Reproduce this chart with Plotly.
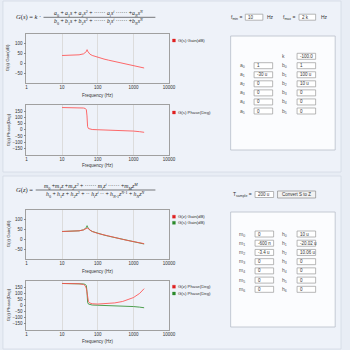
import plotly.graph_objects as go

# ---------------- data ----------------
freq = [10, 20, 30, 40, 45, 48, 50, 50.33, 51, 52, 55, 60, 70, 100, 150, 200, 300, 500, 700, 1000, 1500, 2000]
gs_gain = [40.35, 41.5, 43.8, 48.7, 53.9, 60.4, 69.4, 70.0, 67.6, 62.5, 54.1, 47.5, 40.6, 30.6, 22.07, 16.6, 9.25, 0.24, -5.61, -11.75, -18.63, -23.4]
gs_phase = [179.5, 178.9, 178.0, 175.7, 171.5, 161.0, 112.0, 89.5, 50.0, 25.5, 9.7, 4.5, 1.9, 0.1, -0.9, -1.7, -2.9, -5.2, -7.4, -10.7, -15.7, -20.6]
gz_gain = [40.3, 41.5, 43.8, 48.5, 53.3, 58.0, 60.4, 60.5, 59.9, 58.4, 53.0, 47.1, 40.4, 30.6, 22.05, 16.6, 9.24, 0.25, -5.57, -11.6, -18.1, -21.8]
gz_phase = [179.7, 179.0, 177.4, 171.0, 159.5, 137.0, 99.0, 91.6, 75.7, 57.7, 31.0, 18.6, 12.3, 9.8, 11.2, 13.7, 19.3, 31.3, 43.8, 63.2, 98.0, 137.0]

x_tickvals = [1, 10, 100, 1000, 10000]
x_ticktext = ["1", "10", "100", "1000", "10000"]
gain_ticks = [-50, 0, 50, 100]
phase_ticks = [-150, -100, -50, 0, 50, 100, 150]

a_labels = ["a<sub>%d</sub>" % i for i in range(6)]
a_values = ["1", "-30 u", "0", "0", "0", "0"]
b_labels = ["b<sub>%d</sub>" % i for i in range(6)]
b_values = ["1", "100 u", "10 u", "0", "0", "0"]
k_value = "-100.0"
m_labels = ["m<sub>%d</sub>" % i for i in range(7)]
m_values = ["0", "-600 n", "-3.4 u", "0", "0", "0", "0"]
h_labels = ["h<sub>%d</sub>" % i for i in range(7)]
h_values = ["10 u", "-20.02 u", "10.06 u", "0", "0", "0", "0"]
fmin_value = "10"
fmax_value = "2 k"
tsample_value = "200 u"

# ---------------- helpers ----------------
W = H = 350
def X(p): return p / W
def Y(p): return 1 - p / H

RED = "rgba(255,80,80,0.85)"
GREEN = "rgba(60,150,60,0.9)"
SANS = "Liberation Sans"
SERIF = "Liberation Serif"
TXT = "#333"

fig = go.Figure()
fig.add_trace(go.Scatter(x=freq, y=gs_gain, mode="lines", line=dict(color=RED, width=1), xaxis="x", yaxis="y"))
fig.add_trace(go.Scatter(x=freq, y=gs_phase, mode="lines", line=dict(color=RED, width=1), xaxis="x2", yaxis="y2"))
fig.add_trace(go.Scatter(x=freq, y=gs_gain, mode="lines", line=dict(color=GREEN, width=1), xaxis="x3", yaxis="y3"))
fig.add_trace(go.Scatter(x=freq, y=gz_gain, mode="lines", line=dict(color=RED, width=1), xaxis="x3", yaxis="y3"))
fig.add_trace(go.Scatter(x=freq, y=gs_phase, mode="lines", line=dict(color=GREEN, width=1), xaxis="x4", yaxis="y4"))
fig.add_trace(go.Scatter(x=freq, y=gz_phase, mode="lines", line=dict(color=RED, width=1), xaxis="x4", yaxis="y4"))

tickfont = dict(family=SANS, size=4.5, color=TXT)
def xax(anchor):
    return dict(domain=[X(26), X(172)], anchor=anchor, type="log", range=[0, 4],
                tickvals=x_tickvals, ticktext=x_ticktext, showgrid=True, gridcolor="#dcdcdc",
                gridwidth=0.8, showline=True, mirror=True, linecolor="#a0a0a0", linewidth=0.8,
                tickfont=tickfont, ticks="", zeroline=False, fixedrange=True)
def yax(anchor, top, bot, rng, tv):
    return dict(domain=[Y(bot), Y(top)], anchor=anchor, range=rng, tickvals=tv,
                showgrid=False, showline=True, mirror=True, linecolor="#a0a0a0", linewidth=0.8,
                ticks="outside", ticklen=2, tickcolor="#888", tickwidth=0.6,
                tickfont=tickfont, zeroline=False, fixedrange=True)

layout = dict(
    width=W, height=H, margin=dict(l=0, r=0, t=0, b=0),
    paper_bgcolor="#e8edf5", plot_bgcolor="white", showlegend=False,
    xaxis=xax("y"), yaxis=yax("x", 34, 83, [-100, 150], gain_ticks),
    xaxis2=xax("y2"), yaxis2=yax("x2", 105, 154.5, [-200, 200], phase_ticks),
    xaxis3=xax("y3"), yaxis3=yax("x3", 210, 259, [-100, 150], gain_ticks),
    xaxis4=xax("y4"), yaxis4=yax("x4", 281, 329.5, [-200, 200], phase_ticks),
)
fig.update_layout(**layout)

shapes = []
ann = []

def rect(x0, y0, x1, y1, fill, line, lw=0.8, layer="below"):
    shapes.append(dict(type="rect", xref="paper", yref="paper", x0=X(x0), x1=X(x1), y0=Y(y1), y1=Y(y0),
                       fillcolor=fill, line=dict(color=line, width=lw), layer=layer))

def text(x, y, s, size=5, anchor="left", color=TXT, family=SANS, angle=0):
    ann.append(dict(xref="paper", yref="paper", x=X(x), y=Y(y), text=s, showarrow=False,
                    xanchor=anchor, yanchor="middle", textangle=angle,
                    font=dict(family=family, size=size, color=color)))

def inputbox(x0, x1, yc, val, h=6):
    rect(x0, yc - h / 2, x1, yc + h / 2, "white", "#9a9a9a", 0.7, "above")
    text(x0 + 1.2, yc, val, size=4.5)

# panels
rect(2, 1, 348, 172, "#eef2f9", "#d3d9e4")
rect(2, 176, 348, 349, "#eef2f9", "#d3d9e4")

# ---- top formula
text(43, 17, "<i>G</i>(<i>s</i>) = <i>k</i> ·", size=6.5, anchor="right", family=SERIF, color="#222")
text(100, 13.6, "<i>a</i><sub>0</sub> + <i>a</i><sub>1</sub><i>s</i> + <i>a</i><sub>2</sub><i>s</i><sup>2</sup> + ······ <i>a</i><sub><i>i</i></sub><i>s</i><sup><i>i</i></sup> ······ +<i>a</i><sub><i>N</i></sub><i>s</i><sup><i>N</i></sup>",
     size=5.8, anchor="center", family=SERIF, color="#222")
text(100, 21.2, "<i>b</i><sub>0</sub> + <i>b</i><sub>1</sub><i>s</i> + <i>b</i><sub>2</sub><i>s</i><sup>2</sup> + ······ <i>b</i><sub><i>i</i></sub><i>s</i><sup><i>i</i></sup> ······ +<i>b</i><sub><i>N</i></sub><i>s</i><sup><i>N</i></sup>",
     size=5.8, anchor="center", family=SERIF, color="#222")
shapes.append(dict(type="line", xref="paper", yref="paper", x0=X(43.5), x1=X(158), y0=Y(17.3), y1=Y(17.3), line=dict(color="#222", width=0.6)))

# ---- bottom formula
text(35, 190, "<i>G</i>(<i>z</i>) =", size=6.5, anchor="right", family=SERIF, color="#222")
text(92, 186, "<i>m</i><sub>0</sub> +<i>m</i><sub>1</sub><i>z</i> +<i>m</i><sub>2</sub><i>z</i><sup>2</sup> + ······ <i>m</i><sub><i>i</i></sub><i>z</i><sup><i>i</i></sup> ······ +<i>m</i><sub><i>M</i></sub><i>z</i><sup><i>M</i></sup>",
     size=5.8, anchor="center", family=SERIF, color="#222")
text(96.5, 194, "<i>h</i><sub>0</sub> + <i>h</i><sub>1</sub><i>z</i> + <i>h</i><sub>2</sub><i>z</i><sup>2</sup> + ·· <i>h</i><sub><i>i</i></sub><i>z</i><sup><i>i</i></sup> ·· + <i>h</i><sub><i>N</i>-1</sub><i>z</i><sup><i>N</i>-1</sup> + <i>h</i><sub><i>N</i></sub><i>z</i><sup><i>N</i></sup>",
     size=5.8, anchor="center", family=SERIF, color="#222")
shapes.append(dict(type="line", xref="paper", yref="paper", x0=X(35.5), x1=X(158), y0=Y(190), y1=Y(190), line=dict(color="#222", width=0.6)))

# ---- fmin / fmax
text(248.5, 17, "f<sub>min</sub> =", size=5, anchor="right")
inputbox(250, 268, 17.2, fmin_value)
text(270, 17, "Hz", size=5)
text(303, 17, "f<sub>max</sub> =", size=5, anchor="right")
inputbox(305, 322, 17.2, fmax_value)
text(325.5, 17, "Hz", size=5)

# ---- Tsample / button
text(258.5, 194.3, "T<sub>sample</sub> =", size=5, anchor="right")
inputbox(260, 279, 194.5, tsample_value)
rect(283, 191, 322, 198, "#f2f2f2", "#8a8a8a", 0.7, "above")
text(302.5, 194.5, "Convert S to Z", size=4.5, anchor="center")

# ---- coefficient boxes
rect(235, 36, 342, 150, "#fbfcfe", "#b8bec9")
text(289, 56.3, "k", size=5, anchor="center", color="#555")
inputbox(303, 322, 56.3, k_value)
for i in range(6):
    yc = 65.7 + i * 9.06
    text(242.5, yc, a_labels[i], size=5, color="#555")
    inputbox(259, 278, yc, a_values[i])
    text(286, yc, b_labels[i], size=5, color="#555")
    inputbox(303, 322, yc, b_values[i])

rect(235, 212, 342, 327, "#fbfcfe", "#b8bec9")
for i in range(7):
    yc = 234 + i * 9.22
    text(242, yc, m_labels[i], size=5, color="#555")
    inputbox(260, 279, yc, m_values[i])
    text(286, yc, h_labels[i], size=5, color="#555")
    inputbox(303, 322, yc, h_values[i])

# ---- legends
def legend(y, col, s):
    rect(175.5, y - 1.5, 178.5, y + 1.5, col, col, 0.3, "above")
    text(179.5, y, s, size=4.3)
legend(40.5, "#e02020", "G(s) Gain(dB)")
legend(112.5, "#e02020", "G(s) Phase(Deg)")
legend(216.7, "#e02020", "G(z) Gain(dB)")
legend(222.8, "#2a8a2a", "G(s) Gain(dB)")
legend(286.7, "#e02020", "G(z) Phase(Deg)")
legend(293.5, "#2a8a2a", "G(s) Phase(Deg)")

# ---- axis titles
for yc, s in [(58, "G(s) Gain(dB)"), (130, "G(s) Phase(Deg)"), (234, "G(z) Gain(dB)"), (305, "G(z) Phase(Deg)")]:
    ann.append(dict(xref="paper", yref="paper", x=X(7.5), y=Y(yc), text=s, showarrow=False, textangle=-90,
                    xanchor="center", yanchor="middle", font=dict(family=SANS, size=4.3, color=TXT)))
for yc in [95.7, 165.7, 271, 341]:
    text(99, yc, "Frequency (Hz)", size=4.5, anchor="center")

fig.update_layout(shapes=shapes, annotations=ann)
fig.write_html("out.html")
